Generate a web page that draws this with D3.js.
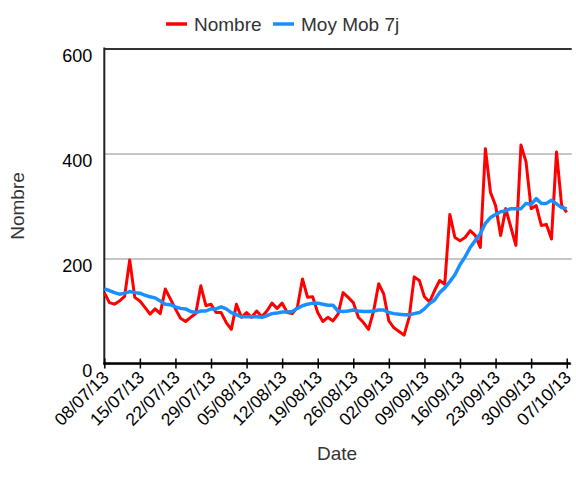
<!DOCTYPE html>
<html>
<head>
<meta charset="utf-8">
<script src="https://cdn.jsdelivr.net/npm/d3@7"></script>
<style>
  body { margin: 0; background: #fff; }
  text { font-family: "Liberation Sans", Arial, sans-serif; }
</style>
</head>
<body>
<div id="chart"></div>
<script>
// daily counts, 08/07/13 -> 07/10/13
var startDate = "08/07/13";
var nombre = [135, 116, 113, 119, 128, 197, 126, 119, 107, 94, 104, 95, 142, 123,
  104, 86, 80, 88, 95, 148, 110, 113, 97, 97, 78, 65, 113, 88,
  97, 88, 100, 89, 100, 115, 105, 115, 97, 95, 107, 161, 126, 127,
  97, 80, 88, 81, 94, 135, 126, 116, 88, 78, 65, 100, 152, 132,
  81, 68, 61, 54, 88, 165, 158, 127, 117, 139, 158, 151, 284, 240,
  234, 240, 253, 244, 221, 409, 326, 301, 244, 295, 260, 225, 416, 384,
  295, 301, 263, 265, 237, 403, 301, 288];
var moyMob = [142, 139, 135, 132, 134, 137, 135, 134, 130, 127, 125, 119, 113, 112,
  108, 105, 104, 99, 97, 100, 100, 104, 104, 108, 104, 97, 93, 89,
  89, 89, 89, 88, 91, 95, 96, 98, 98, 99, 105, 110, 113, 115,
  115, 113, 111, 111, 100, 99, 100, 102, 100, 99, 99, 100, 102, 102,
  97, 95, 94, 93, 93, 95, 97, 104, 114, 121, 135, 144, 156, 169,
  188, 203, 221, 234, 247, 267, 278, 284, 289, 291, 295, 295, 295, 305,
  303, 314, 305, 305, 311, 304, 297, 295];
var tickLabels = ["08/07/13", "15/07/13", "22/07/13", "29/07/13", "05/08/13", "12/08/13", "19/08/13",
  "26/08/13", "02/09/13", "09/09/13", "16/09/13", "23/09/13", "30/09/13", "07/10/13"];
var yTicks = [0, 200, 400, 600];
var seriesNames = ["Nombre", "Moy Mob 7j"];

var parse = d3.timeParse("%d/%m/%y");
var fmt = d3.timeFormat("%d/%m/%y");
var day0 = parse(startDate);
var dates = nombre.map(function(d, i) { return d3.timeDay.offset(day0, i); });

var svgWidth = 576, svgHeight = 487;
var margin = { top: 48.5, right: 9.3, bottom: 123.5, left: 104.3 };
var chartWidth = 566.7 - margin.left;
var chartHeight = 363.5 - margin.top;

var svg = d3.select("#chart").append("svg")
  .attr("width", svgWidth)
  .attr("height", svgHeight);

var chartGroup = svg.append("g")
  .attr("transform", `translate(${margin.left}, ${margin.top})`);

var xScale = d3.scaleTime()
  .domain([dates[0], dates[dates.length - 1]])
  .range([0, chartWidth]);
var yScale = d3.scaleLinear()
  .domain([0, 600])
  .range([chartHeight, 0]);

// gridlines + y labels
var leftAxis = d3.axisLeft(yScale).tickValues(yTicks).tickSize(-(chartWidth + 5)).tickPadding(0);
var yAxis = chartGroup.append("g").call(leftAxis);
yAxis.select(".domain").remove();
yAxis.selectAll("line")
  .attr("stroke", function(d) { return d == 600 ? "#333" : "#c6c6c6"; })
  .attr("stroke-width", 2);
yAxis.selectAll("text")
  .attr("x", -12).attr("dy", null).attr("y", 13)
  .attr("font-size", "18px").attr("fill", "#000");

// y axis line
chartGroup.append("line")
  .attr("x1", 0).attr("x2", 0)
  .attr("y1", -1).attr("y2", chartHeight + 1)
  .attr("stroke", "#222").attr("stroke-width", 2);

// x axis
var bottomAxis = d3.axisBottom(xScale)
  .tickValues(tickLabels.map(parse))
  .tickFormat(fmt)
  .tickSize(5).tickSizeOuter(0);
var xAxis = chartGroup.append("g")
  .attr("transform", `translate(0, ${chartHeight})`)
  .call(bottomAxis);
xAxis.select(".domain").attr("stroke", "#000").attr("stroke-width", 2.5)
  .attr("d", `M-1,0H${chartWidth + 4}`);
xAxis.selectAll(".tick line").attr("y1", -5).attr("y2", 5).attr("stroke", "#000").attr("stroke-width", 1.5);
xAxis.selectAll(".tick text")
  .attr("y", 0).attr("dy", null)
  .attr("text-anchor", "end")
  .attr("font-size", "17.5px").attr("fill", "#000")
  .attr("transform", "translate(5, 15) rotate(-45)");

// lines
var line = d3.line()
  .x(function(d, i) { return xScale(dates[i]); })
  .y(function(d) { return yScale(d); });

chartGroup.append("path")
  .datum(nombre)
  .attr("d", line)
  .attr("fill", "none")
  .attr("stroke", "#ff0000")
  .attr("stroke-width", 3)
  .attr("stroke-linejoin", "round");

chartGroup.append("path")
  .datum(moyMob)
  .attr("d", line)
  .attr("fill", "none")
  .attr("stroke", "#1a8fff")
  .attr("stroke-width", 3.5)
  .attr("stroke-linejoin", "round");

// axis titles
svg.append("text")
  .attr("transform", "translate(24, 206) rotate(-90)")
  .attr("text-anchor", "middle")
  .attr("font-size", "19px")
  .attr("fill", "#333")
  .text("Nombre");

svg.append("text")
  .attr("x", 337).attr("y", 460)
  .attr("text-anchor", "middle")
  .attr("font-size", "19px")
  .attr("fill", "#333")
  .text("Date");

// legend
var legend = [
  { name: seriesNames[0], color: "#ff0000", x: 166 },
  { name: seriesNames[1], color: "#1a8fff", x: 273 }
];
var lg = svg.selectAll(".legend").data(legend).enter().append("g")
  .attr("transform", function(d) { return `translate(${d.x}, 24)`; });
lg.append("line")
  .attr("x1", 0).attr("x2", 21)
  .attr("stroke", function(d) { return d.color; })
  .attr("stroke-width", 3.5);
lg.append("text")
  .attr("x", 28).attr("y", 7)
  .attr("font-size", "19px")
  .attr("fill", "#333")
  .text(function(d) { return d.name; });
</script>
</body>
</html>
